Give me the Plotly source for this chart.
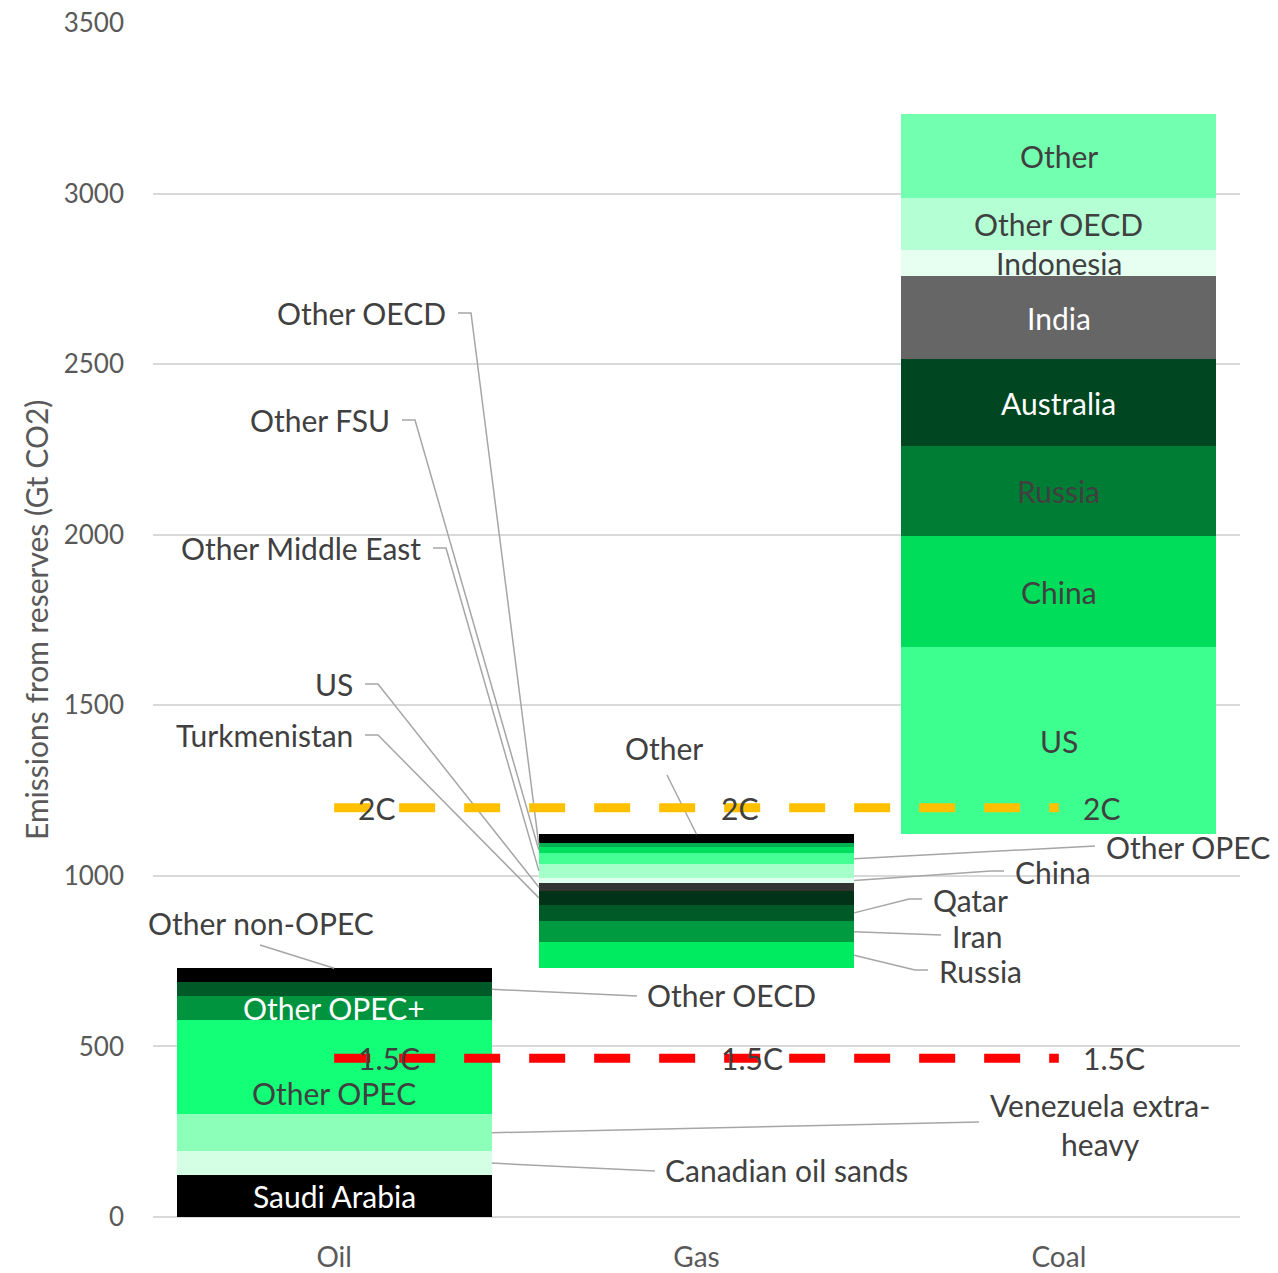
import plotly.graph_objects as go

# ---- data (Gt CO2 of emissions embedded in reserves) ----
categories = ["Oil", "Gas", "Coal"]

oil_sources = ["Saudi Arabia", "Canadian oil sands", "Venezuela extra-heavy",
               "Other OPEC", "Other OPEC+", "Other OECD", "Other non-OPEC"]
oil_values = [123, 70, 108, 276, 70, 41, 41]

gas_sources = ["Russia", "Iran", "Qatar", "Turkmenistan", "US", "China",
               "Other Middle East", "Other OPEC", "Other FSU", "Other OECD", "Other"]
gas_values = [76, 62, 49, 39, 23, 17, 39, 32, 18, 12, 26]

coal_sources = ["US", "China", "Russia", "Australia", "India", "Indonesia",
                "Other OECD", "Other"]
coal_values = [548, 325, 264, 255, 243, 79, 150, 246]

budget_names = ["2C", "1.5C"]
budget_values = [1200, 465]

# ---- styles ----
oil_colors = ["#000000", "#d4ffe4", "#8cffb9", "#14ff78", "#00943f", "#005a28", "#000000"]
gas_colors = ["#00eb60", "#009a40", "#005a28", "#003318", "#333333", "#e0ffee",
              "#a5ffc8", "#45ff95", "#00e060", "#00b050", "#000000"]
coal_colors = ["#3dff90", "#00dd5a", "#007d35", "#004620", "#666666", "#e6fff0",
               "#b4ffd4", "#73ffb0"]
budget_colors = ["#ffc000", "#ff0000"]

FONT = "Lato"
TXT = "#404040"
AXIS_TXT = "#595959"
LEADER = "#a6a6a6"
LABEL_SIZE = 30

# ---- page geometry ----
W, H = 1278, 1273
M_L, M_R, M_T, M_B = 153, 38, 23, 56
PLOT_W, PLOT_H = W - M_L - M_R, H - M_T - M_B
X_RANGE = [-0.5, 2.5]
Y_RANGE = [0, 3500]
BAR_W = 0.87
HALF = BAR_W / 2


def to_x(px):
    return X_RANGE[0] + (px - M_L) / PLOT_W * (X_RANGE[1] - X_RANGE[0])


def to_y(py):
    return Y_RANGE[1] - (py - M_T) / PLOT_H * (Y_RANGE[1] - Y_RANGE[0])


fig = go.Figure()

# ---- stacked, floating bars (each fuel starts where the previous ended) ----
stacks = [(oil_sources, oil_values, oil_colors),
          (gas_sources, gas_values, gas_colors),
          (coal_sources, coal_values, coal_colors)]
segments = {}  # (fuel index, source) -> (base, top)
running = 0
for i, (names, vals, cols) in enumerate(stacks):
    for name, v, c in zip(names, vals, cols):
        fig.add_trace(go.Bar(
            x=[i], y=[v], base=[running], width=BAR_W,
            marker=dict(color=c, line=dict(width=0)),
            name=f"{categories[i]} - {name}", showlegend=False,
            hovertemplate=f"{categories[i]} – {name}: %{{y}} Gt<extra></extra>",
        ))
        segments[(i, name)] = (running, running + v)
        running += v


def mid(i, name):
    b, t = segments[(i, name)]
    return (b + t) / 2


def leader(points):
    fig.add_trace(go.Scatter(
        x=[p[0] for p in points], y=[p[1] for p in points], mode="lines",
        line=dict(color=LEADER, width=1.5), hoverinfo="skip", showlegend=False,
    ))


annotations = []


def label(x, y, text, xanchor="center", color=TXT, yshift=0, size=LABEL_SIZE, align="center"):
    annotations.append(dict(
        x=x, y=y, xref="x", yref="y", text=text, showarrow=False,
        xanchor=xanchor, yanchor="middle", yshift=yshift, align=align,
        font=dict(family=FONT, size=size, color=color),
    ))


# ---- in-bar labels ----
label(0, mid(0, "Saudi Arabia"), "Saudi Arabia", color="#ffffff")
label(0, mid(0, "Other OPEC"), "Other OPEC", yshift=-26)
label(0, mid(0, "Other OPEC+"), "Other OPEC+", color="#ffffff")
coal_text_colors = {"Australia": "#ffffff", "India": "#ffffff"}
for name in coal_sources:
    label(2, mid(2, name), name, color=coal_text_colors.get(name, TXT))

# ---- oil labels with leader lines ----
oil_top = segments[(0, "Other non-OPEC")][1]
leader([(0, oil_top), (to_x(260), to_y(945))])
label(to_x(261), to_y(923), "Other non-OPEC")

oil_right = {  # name: (text left px, text centre px)
    "Other OECD": (645, 995),
    "Canadian oil sands": (663, 1170),
}
for name, (lx, ly) in oil_right.items():
    leader([(HALF, mid(0, name)), (to_x(lx - 22), to_y(ly + 1)), (to_x(lx - 8), to_y(ly + 1))])
    label(to_x(lx), to_y(ly), name, xanchor="left")

leader([(HALF, mid(0, "Venezuela extra-heavy")), (to_x(979), to_y(1122))])
label(to_x(988), to_y(1124), "Venezuela extra-<br>heavy", xanchor="left")

# ---- gas labels with leader lines ----
gas_top = segments[(1, "Other")][1]
leader([(1, gas_top), (to_x(667), to_y(775))])
label(to_x(664), to_y(748), "Other")

gas_left = {  # name: (text right px, text centre px)
    "Other OECD": (448, 313),
    "Other FSU": (392, 420),
    "Other Middle East": (423, 548),
    "US": (355, 684),
    "Turkmenistan": (355, 735),
}
for name, (rx, ry) in gas_left.items():
    leader([(1 - HALF, mid(1, name)), (to_x(rx + 23), to_y(ry)), (to_x(rx + 10), to_y(ry))])
    label(to_x(rx), to_y(ry), name, xanchor="right")

gas_right = {  # name: (text left px, text centre px)
    "Other OPEC": (1104, 847),
    "China": (1013, 872),
    "Qatar": (931, 900),
    "Iran": (950, 936),
    "Russia": (937, 971),
}
for name, (lx, ly) in gas_right.items():
    leader([(1 + HALF, mid(1, name)), (to_x(lx - 22), to_y(ly - 1)), (to_x(lx - 9), to_y(ly - 1))])
    label(to_x(lx), to_y(ly), name, xanchor="left")

# ---- carbon budget lines ----
for name, v, c in zip(budget_names, budget_values, budget_colors):
    fig.add_trace(go.Scatter(
        x=[0, 1, 2], y=[v] * 3, mode="lines",
        line=dict(color=c, width=9, dash="36px,29px"),
        name=name, showlegend=False,
        hovertemplate=f"{name}: %{{y}} Gt<extra></extra>",
    ))
    for i in range(3):
        annotations.append(dict(
            x=i, y=v, xref="x", yref="y", text=name, showarrow=False,
            xanchor="left", yanchor="middle", xshift=22,
            font=dict(family=FONT, size=LABEL_SIZE, color=TXT),
        ))

# ---- y-axis title ----
annotations.append(dict(
    x=(36 - M_L) / PLOT_W, y=0.5, xref="paper", yref="paper",
    text="Emissions from reserves (Gt CO2)", textangle=-90, showarrow=False,
    xanchor="center", yanchor="middle",
    font=dict(family=FONT, size=30, color=AXIS_TXT),
))

fig.update_layout(
    width=W, height=H,
    margin=dict(l=M_L, r=M_R, t=M_T, b=M_B, pad=0, autoexpand=False),
    paper_bgcolor="#ffffff", plot_bgcolor="#ffffff",
    barmode="overlay", bargap=0,
    font=dict(family=FONT, color=AXIS_TXT),
    annotations=annotations,
    xaxis=dict(
        range=X_RANGE, tickvals=[0, 1, 2], ticktext=categories,
        showgrid=False, zeroline=False, showline=False, ticks="",
        tickfont=dict(family=FONT, size=28, color=AXIS_TXT),
        ticklabelstandoff=21, fixedrange=True, automargin=False,
    ),
    yaxis=dict(
        range=Y_RANGE, dtick=500, showgrid=True, gridcolor="#d9d9d9", gridwidth=1.5,
        zeroline=True, zerolinecolor="#d9d9d9", zerolinewidth=1.5,
        showline=False, ticks="",
        tickfont=dict(family=FONT, size=26, color=AXIS_TXT),
        ticklabelstandoff=28, fixedrange=True, automargin=False,
    ),
)

fig.write_html("out.html")
